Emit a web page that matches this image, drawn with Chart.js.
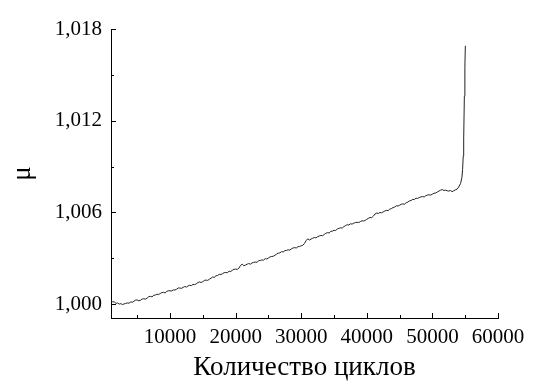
<!DOCTYPE html>
<html>
<head>
<meta charset="utf-8">
<script src="https://cdn.jsdelivr.net/npm/chart.js@4/dist/chart.umd.min.js"></script>
<style>
  html, body { margin: 0; padding: 0; background: #fff; }
  #wrap { width: 546px; height: 391px; }
</style>
</head>
<body>
<div id="wrap"><canvas id="chart"></canvas></div>
<script>
// cycles and friction coefficient
var cycles = [
    1000, 1250, 1500, 1750, 2000, 2250, 2500, 2750, 3000, 3250, 3500, 3750,
    4000, 4250, 4500, 4750, 5000, 5250, 5500, 5750, 6000, 6250, 6500, 6750,
    7000, 7250, 7500, 7750, 8000, 8250, 8500, 8750, 9000, 9250, 9500, 9750,
    10000, 10250, 10500, 10750, 11000, 11250, 11500, 11750, 12000, 12250, 12500, 12750,
    13000, 13250, 13500, 13750, 14000, 14250, 14500, 14750, 15000, 15250, 15500, 15750,
    16000, 16250, 16500, 16750, 17000, 17250, 17500, 17750, 18000, 18250, 18500, 18750,
    19000, 19250, 19500, 19750, 20000, 20250, 20500, 20750, 21000, 21250, 21500, 21750,
    22000, 22250, 22500, 22750, 23000, 23250, 23500, 23750, 24000, 24250, 24500, 24750,
    25000, 25250, 25500, 25750, 26000, 26250, 26500, 26750, 27000, 27250, 27500, 27750,
    28000, 28250, 28500, 28750, 29000, 29250, 29500, 29750, 30000, 30250, 30500, 30750,
    31000, 31250, 31500, 31750, 32000, 32250, 32500, 32750, 33000, 33250, 33500, 33750,
    34000, 34250, 34500, 34750, 35000, 35250, 35500, 35750, 36000, 36250, 36500, 36750,
    37000, 37250, 37500, 37750, 38000, 38250, 38500, 38750, 39000, 39250, 39500, 39750,
    40000, 40250, 40500, 40750, 41000, 41250, 41500, 41750, 42000, 42250, 42500, 42750,
    43000, 43250, 43500, 43750, 44000, 44250, 44500, 44750, 45000, 45250, 45500, 45750,
    46000, 46250, 46500, 46750, 47000, 47250, 47500, 47750, 48000, 48250, 48500, 48750,
    49000, 49250, 49500, 49750, 50000, 50250, 50500, 50750, 51000, 51250, 51500, 51750,
    52000, 52250, 52500, 52750, 53000, 53250, 53500, 53750, 54000,
    54300, 54500, 54600, 54700, 54770, 54870, 54950, 55020
];
var mu = [
    1.00022, 1.00016, 1.00015, 1.00006, 1.00008, 1.00001, 1.00004, 0.99998, 1.00002, 1.00006, 1.00008, 1.00007,
    1.00015, 1.00013, 1.00020, 1.00027, 1.00028, 1.00022, 1.00026, 1.00034, 1.00036, 1.00033, 1.00040, 1.00049,
    1.00052, 1.00048, 1.00058, 1.00060, 1.00066, 1.00063, 1.00070, 1.00076, 1.00078, 1.00074, 1.00084, 1.00088,
    1.00088, 1.00087, 1.00094, 1.00093, 1.00098, 1.00106, 1.00106, 1.00104, 1.00110, 1.00116, 1.00112, 1.00120,
    1.00124, 1.00122, 1.00130, 1.00128, 1.00134, 1.00142, 1.00146, 1.00142, 1.00148, 1.00156, 1.00158, 1.00156,
    1.00164, 1.00170, 1.00178, 1.00176, 1.00186, 1.00188, 1.00196, 1.00194, 1.00200, 1.00206, 1.00208, 1.00206,
    1.00216, 1.00214, 1.00222, 1.00228, 1.00230, 1.00228, 1.00236, 1.00254, 1.00262, 1.00252, 1.00256, 1.00262,
    1.00266, 1.00262, 1.00270, 1.00274, 1.00276, 1.00274, 1.00284, 1.00286, 1.00290, 1.00288, 1.00298, 1.00296,
    1.00302, 1.00310, 1.00312, 1.00314, 1.00320, 1.00328, 1.00334, 1.00336, 1.00344, 1.00342, 1.00350, 1.00352,
    1.00356, 1.00354, 1.00362, 1.00368, 1.00370, 1.00368, 1.00376, 1.00378, 1.00382, 1.00386, 1.00398, 1.00416,
    1.00428, 1.00420, 1.00426, 1.00432, 1.00436, 1.00434, 1.00442, 1.00446, 1.00450, 1.00448, 1.00456, 1.00464,
    1.00468, 1.00466, 1.00476, 1.00478, 1.00484, 1.00482, 1.00492, 1.00496, 1.00500, 1.00498, 1.00508, 1.00514,
    1.00520, 1.00518, 1.00526, 1.00524, 1.00530, 1.00534, 1.00536, 1.00534, 1.00540, 1.00546, 1.00544, 1.00548,
    1.00556, 1.00562, 1.00568, 1.00566, 1.00576, 1.00590, 1.00596, 1.00594, 1.00600, 1.00598, 1.00604, 1.00610,
    1.00614, 1.00612, 1.00622, 1.00626, 1.00632, 1.00636, 1.00644, 1.00642, 1.00648, 1.00654, 1.00656, 1.00654,
    1.00664, 1.00668, 1.00676, 1.00678, 1.00686, 1.00684, 1.00694, 1.00692, 1.00698, 1.00702, 1.00704, 1.00702,
    1.00710, 1.00714, 1.00716, 1.00714, 1.00720, 1.00726, 1.00728, 1.00734, 1.00740, 1.00746, 1.00750, 1.00744,
    1.00746, 1.00742, 1.00740, 1.00744, 1.00736, 1.00742, 1.00748, 1.00752, 1.00766,
    1.00790, 1.00830, 1.00880, 1.00970, 1.01080, 1.01360, 1.01550, 1.01690
];

var xTicks = [10000, 20000, 30000, 40000, 50000, 60000];
var xMinor = [5000, 15000, 25000, 35000, 45000, 55000];
var yTicks = [1.000, 1.006, 1.012, 1.018];
var yMinor = [1.003, 1.009, 1.015];

var points = cycles.map(function (c, i) {
    return { x: c, y: mu[i] };
});

var serif = 'Liberation Serif, Times New Roman, serif';

// ticks drawn inward, like the original plot
var innerTicks = {
    id: 'innerTicks',
    afterDraw: function (chart) {
        var ctx = chart.ctx;
        var xs = chart.scales.x, ys = chart.scales.y;
        var area = chart.chartArea;
        ctx.save();
        ctx.strokeStyle = '#000';
        ctx.lineWidth = 1;
        ctx.beginPath();
        function xt(list, len) {
            list.forEach(function (v) {
                var px = Math.round(xs.getPixelForValue(v)) + 0.5;
                ctx.moveTo(px, area.bottom);
                ctx.lineTo(px, area.bottom - len);
            });
        }
        function yt(list, len) {
            list.forEach(function (v) {
                var py = Math.round(ys.getPixelForValue(v)) + 0.5;
                ctx.moveTo(area.left, py);
                ctx.lineTo(area.left + len, py);
            });
        }
        xt(xTicks, 5); xt(xMinor, 3);
        yt(yTicks, 5); yt(yMinor, 3);
        ctx.stroke();
        ctx.restore();
    }
};

var config = {
    type: 'line',
    data: {
        datasets: [{
            data: points,
            borderColor: '#222',
            borderWidth: 1,
            pointRadius: 0,
            tension: 0,
            fill: false
        }]
    },
    options: {
        responsive: true,
        maintainAspectRatio: false,
        animation: false,
        layout: { padding: { top: 29, right: 48, left: 0, bottom: 0 } },
        plugins: {
            legend: { display: false },
            tooltip: { enabled: false }
        },
        scales: {
            x: {
                type: 'linear',
                min: 1000,
                max: 60000,
                afterBuildTicks: function (scale) {
                    scale.ticks = xTicks.map(function (v) { return { value: v }; });
                },
                afterFit: function (scale) { scale.height = 73; },
                grid: { display: true, drawOnChartArea: false, drawTicks: false },
                border: { display: true, color: '#000', width: 1 },
                ticks: {
                    padding: 7,
                    color: '#000',
                    maxRotation: 0,
                    font: { family: serif, size: 21 },
                    callback: function (v) { return String(v); }
                },
                title: {
                    display: true,
                    text: 'Количество циклов',
                    color: '#000',
                    font: { family: serif, size: 27 },
                    padding: { top: 0, bottom: 7 }
                }
            },
            y: {
                min: 0.9991,
                max: 1.018,
                afterBuildTicks: function (scale) {
                    scale.ticks = yTicks.map(function (v) { return { value: v }; });
                },
                afterFit: function (scale) { scale.width = 111; },
                grid: { display: true, drawOnChartArea: false, drawTicks: false },
                border: { display: true, color: '#000', width: 1 },
                ticks: {
                    padding: 9,
                    color: '#000',
                    font: { family: serif, size: 21 },
                    callback: function (v) { return v.toFixed(3).replace('.', ','); }
                },
                title: {
                    display: true,
                    text: 'μ',
                    color: '#000',
                    font: { family: serif, size: 27 },
                    padding: { top: 7, bottom: 0 }
                }
            }
        }
    },
    plugins: [innerTicks]
};

var ctx = document.getElementById('chart').getContext('2d');
window.myChart = new Chart(ctx, config);
</script>
</body>
</html>
